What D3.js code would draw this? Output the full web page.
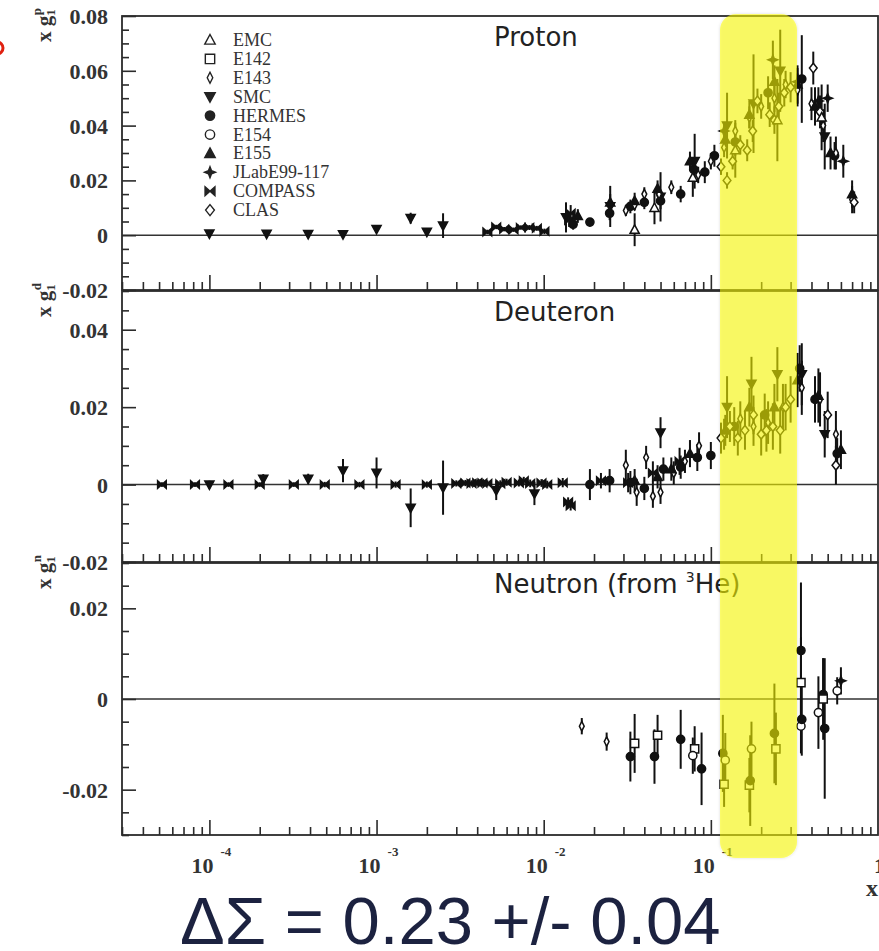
<!DOCTYPE html>
<html>
<head>
<meta charset="utf-8">
<script src="https://cdn.jsdelivr.net/npm/d3@7"></script>
<style>
  body { margin: 0; background: #fff; }
  svg { display: block; }
</style>
</head>
<body>
<svg id="chart" width="879" height="951"></svg>
<script>
// ---- experiments (legend order) ----
const experiments = ["EMC", "E142", "E143", "SMC", "HERMES", "E154", "E155", "JLabE99-117", "COMPASS", "CLAS"];

// ---- x g1 data: [experiment, x, value, error] ----
const protonData = [
  ["SMC", 0.0001, 0.0006, 0.0012], ["SMC", 0.00022, 0.0005, 0.0010], ["SMC", 0.00039, 0.0004, 0.0010],
  ["SMC", 0.00063, 0.0003, 0.0010], ["SMC", 0.0010, 0.0022, 0.0014], ["SMC", 0.0016, 0.0062, 0.0020],
  ["SMC", 0.0020, 0.0012, 0.0012], ["SMC", 0.0025, 0.0035, 0.0045], ["SMC", 0.0136, 0.0065, 0.0055],
  ["SMC", 0.025, 0.0105, 0.0075], ["SMC", 0.05, 0.0140, 0.0090], ["SMC", 0.080, 0.0270, 0.0100],
  ["SMC", 0.125, 0.0400, 0.0120], ["SMC", 0.18, 0.0480, 0.0180], ["SMC", 0.26, 0.0600, 0.0150],
  ["SMC", 0.48, 0.0360, 0.0120],
  ["COMPASS", 0.0046, 0.0012, 0.0008], ["COMPASS", 0.0052, 0.0030, 0.0008], ["COMPASS", 0.0058, 0.0022, 0.0008],
  ["COMPASS", 0.0066, 0.0020, 0.0008], ["COMPASS", 0.0073, 0.0028, 0.0008], ["COMPASS", 0.0082, 0.0028, 0.0009],
  ["COMPASS", 0.0091, 0.0025, 0.0009], ["COMPASS", 0.0101, 0.0014, 0.0010], ["COMPASS", 0.0142, 0.0055, 0.0025],
  ["COMPASS", 0.0145, 0.0080, 0.0030],
  ["HERMES", 0.0150, 0.0040, 0.0020], ["HERMES", 0.0189, 0.0048, 0.0015], ["HERMES", 0.0248, 0.0080, 0.0025],
  ["HERMES", 0.033, 0.0105, 0.0025], ["HERMES", 0.040, 0.0120, 0.0025], ["HERMES", 0.050, 0.0125, 0.0030],
  ["HERMES", 0.066, 0.0150, 0.0030], ["HERMES", 0.079, 0.0240, 0.0035], ["HERMES", 0.092, 0.0230, 0.0040],
  ["HERMES", 0.105, 0.0290, 0.0040], ["HERMES", 0.140, 0.0340, 0.0050], ["HERMES", 0.220, 0.0520, 0.0060],
  ["HERMES", 0.350, 0.0570, 0.0160], ["HERMES", 0.55, 0.0290, 0.0050],
  ["E143", 0.031, 0.0090, 0.0020], ["E143", 0.035, 0.0110, 0.0020], ["E143", 0.040, 0.0150, 0.0025],
  ["E143", 0.049, 0.0150, 0.0025], ["E143", 0.058, 0.0175, 0.0025], ["E143", 0.084, 0.0220, 0.0030],
  ["E143", 0.100, 0.0270, 0.0030], ["E143", 0.120, 0.0320, 0.0035], ["E143", 0.140, 0.0380, 0.0040],
  ["E143", 0.170, 0.0430, 0.0040], ["E143", 0.200, 0.0470, 0.0045], ["E143", 0.240, 0.0500, 0.0050],
  ["E143", 0.280, 0.0550, 0.0050], ["E143", 0.330, 0.0530, 0.0060], ["E143", 0.400, 0.0480, 0.0060],
  ["E143", 0.470, 0.0400, 0.0060], ["E143", 0.560, 0.0300, 0.0060], ["E143", 0.700, 0.0130, 0.0050],
  ["E155", 0.016, 0.0070, 0.0025], ["E155", 0.025, 0.0120, 0.0030], ["E155", 0.035, 0.0125, 0.0030],
  ["E155", 0.048, 0.0170, 0.0030], ["E155", 0.075, 0.0270, 0.0035], ["E155", 0.122, 0.0350, 0.0040],
  ["E155", 0.170, 0.0440, 0.0050], ["E155", 0.240, 0.0560, 0.0060], ["E155", 0.330, 0.0550, 0.0070],
  ["E155", 0.420, 0.0470, 0.0070], ["E155", 0.520, 0.0300, 0.0060], ["E155", 0.700, 0.0150, 0.0050],
  ["CLAS", 0.115, 0.0250, 0.0030], ["CLAS", 0.125, 0.0200, 0.0030], ["CLAS", 0.135, 0.0270, 0.0030],
  ["CLAS", 0.150, 0.0330, 0.0035], ["CLAS", 0.165, 0.0310, 0.0040], ["CLAS", 0.178, 0.0380, 0.0040],
  ["CLAS", 0.190, 0.0490, 0.0045], ["CLAS", 0.225, 0.0440, 0.0045], ["CLAS", 0.240, 0.0420, 0.0050],
  ["CLAS", 0.255, 0.0470, 0.0050], ["CLAS", 0.275, 0.0520, 0.0050], ["CLAS", 0.300, 0.0540, 0.0055],
  ["CLAS", 0.410, 0.0610, 0.0060], ["CLAS", 0.450, 0.0450, 0.0060], ["CLAS", 0.720, 0.0120, 0.0040],
  ["JLabE99-117", 0.120, 0.0380, 0.0030], ["JLabE99-117", 0.235, 0.0640, 0.0070], ["JLabE99-117", 0.330, 0.0560, 0.0050],
  ["JLabE99-117", 0.440, 0.0490, 0.0050], ["JLabE99-117", 0.50, 0.0500, 0.0050], ["JLabE99-117", 0.62, 0.0270, 0.0060],
  ["EMC", 0.035, 0.0020, 0.0060], ["EMC", 0.046, 0.0100, 0.0060], ["EMC", 0.078, 0.0210, 0.0070],
  ["EMC", 0.14, 0.0310, 0.0100], ["EMC", 0.25, 0.0420, 0.0150], ["EMC", 0.46, 0.0430, 0.0120]
];

const deuteronData = [
  ["COMPASS", 5.2e-5, 0.0000, 0.0006], ["COMPASS", 8.2e-5, 0.0000, 0.0006], ["COMPASS", 1.3e-4, 0.0000, 0.0006],
  ["COMPASS", 2.0e-4, 0.0000, 0.0006], ["COMPASS", 3.2e-4, 0.0000, 0.0006], ["COMPASS", 4.9e-4, 0.0000, 0.0007],
  ["COMPASS", 7.9e-4, 0.0000, 0.0007], ["COMPASS", 1.3e-3, 0.0000, 0.0008], ["COMPASS", 2.0e-3, 0.0000, 0.0008],
  ["COMPASS", 3.0e-3, 0.0003, 0.0008], ["COMPASS", 3.4e-3, 0.0004, 0.0008], ["COMPASS", 3.7e-3, 0.0003, 0.0008],
  ["COMPASS", 4.0e-3, 0.0005, 0.0008], ["COMPASS", 4.3e-3, 0.0004, 0.0008], ["COMPASS", 4.6e-3, 0.0003, 0.0008],
  ["COMPASS", 5.5e-3, 0.0002, 0.0009], ["COMPASS", 6.0e-3, 0.0006, 0.0009], ["COMPASS", 7.1e-3, 0.0004, 0.0009],
  ["COMPASS", 7.6e-3, 0.0010, 0.0010], ["COMPASS", 8.3e-3, 0.0003, 0.0010], ["COMPASS", 9.7e-3, 0.0004, 0.0010],
  ["COMPASS", 1.05e-2, 0.0000, 0.0010], ["COMPASS", 1.3e-2, 0.0005, 0.0012], ["COMPASS", 1.4e-2, -0.0045, 0.0012],
  ["COMPASS", 1.45e-2, -0.0055, 0.0012], ["COMPASS", 2.2e-2, 0.0010, 0.0020], ["COMPASS", 3.2e-2, 0.0005, 0.0025],
  ["COMPASS", 4.5e-2, 0.0030, 0.0030], ["COMPASS", 6.5e-2, 0.0060, 0.0035],
  ["SMC", 1.0e-4, 0.0000, 0.0010], ["SMC", 2.1e-4, 0.0015, 0.0012], ["SMC", 3.9e-4, 0.0015, 0.0013],
  ["SMC", 6.3e-4, 0.0036, 0.0030], ["SMC", 1.0e-3, 0.0030, 0.0040], ["SMC", 1.6e-3, -0.0060, 0.0050],
  ["SMC", 2.5e-3, -0.0008, 0.0070], ["SMC", 5.2e-3, -0.0015, 0.0025], ["SMC", 8.8e-3, -0.0023, 0.0030],
  ["SMC", 0.050, 0.0134, 0.0040], ["SMC", 0.125, 0.0200, 0.0080], ["SMC", 0.175, 0.0260, 0.0070],
  ["SMC", 0.25, 0.0285, 0.0070], ["SMC", 0.35, 0.0285, 0.0080], ["SMC", 0.48, 0.0130, 0.0060],
  ["HERMES", 0.0189, 0.0000, 0.0040], ["HERMES", 0.0248, 0.0010, 0.0030], ["HERMES", 0.033, 0.0005, 0.0030],
  ["HERMES", 0.040, -0.0010, 0.0030], ["HERMES", 0.052, 0.0040, 0.0030], ["HERMES", 0.066, 0.0045, 0.0030],
  ["HERMES", 0.083, 0.0070, 0.0035], ["HERMES", 0.100, 0.0075, 0.0035], ["HERMES", 0.138, 0.0150, 0.0050],
  ["HERMES", 0.210, 0.0180, 0.0055], ["HERMES", 0.340, 0.0300, 0.0060], ["HERMES", 0.42, 0.0220, 0.0060],
  ["HERMES", 0.57, 0.0080, 0.0040],
  ["E143", 0.031, 0.0050, 0.0040], ["E143", 0.036, -0.0020, 0.0035], ["E143", 0.041, 0.0070, 0.0030],
  ["E143", 0.045, -0.0030, 0.0030], ["E143", 0.050, -0.0020, 0.0030], ["E143", 0.060, 0.0030, 0.0030],
  ["E143", 0.070, 0.0060, 0.0030], ["E143", 0.085, 0.0100, 0.0035], ["E143", 0.120, 0.0130, 0.0040],
  ["E143", 0.150, 0.0170, 0.0045], ["E143", 0.180, 0.0150, 0.0050], ["E143", 0.220, 0.0160, 0.0055],
  ["E143", 0.270, 0.0200, 0.0060], ["E143", 0.350, 0.0250, 0.0070], ["E143", 0.450, 0.0220, 0.0070],
  ["E143", 0.560, 0.0130, 0.0060],
  ["E155", 0.035, 0.0010, 0.0030], ["E155", 0.048, 0.0020, 0.0030], ["E155", 0.058, 0.0040, 0.0030],
  ["E155", 0.075, 0.0080, 0.0035], ["E155", 0.122, 0.0140, 0.0040], ["E155", 0.170, 0.0200, 0.0050],
  ["E155", 0.240, 0.0200, 0.0060], ["E155", 0.330, 0.0270, 0.0070], ["E155", 0.440, 0.0230, 0.0070],
  ["E155", 0.600, 0.0090, 0.0050],
  ["CLAS", 0.115, 0.0120, 0.0040], ["CLAS", 0.130, 0.0150, 0.0040], ["CLAS", 0.145, 0.0120, 0.0045],
  ["CLAS", 0.160, 0.0140, 0.0050], ["CLAS", 0.180, 0.0180, 0.0050], ["CLAS", 0.200, 0.0130, 0.0055],
  ["CLAS", 0.215, 0.0140, 0.0055], ["CLAS", 0.235, 0.0150, 0.0060], ["CLAS", 0.260, 0.0140, 0.0060],
  ["CLAS", 0.280, 0.0200, 0.0060], ["CLAS", 0.300, 0.0220, 0.0060], ["CLAS", 0.500, 0.0180, 0.0060],
  ["CLAS", 0.560, 0.0050, 0.0050]
];

const neutronData = [
  ["E143", 0.0169, -0.0060, 0.0018], ["E143", 0.0238, -0.0094, 0.0020],
  ["E142", 0.035, -0.0098, 0.0065], ["HERMES", 0.033, -0.0127, 0.0055],
  ["E142", 0.048, -0.0080, 0.0045], ["HERMES", 0.046, -0.0127, 0.0060],
  ["HERMES", 0.066, -0.0089, 0.0065],
  ["E142", 0.080, -0.0110, 0.0050], ["E154", 0.078, -0.0125, 0.0040], ["HERMES", 0.088, -0.0154, 0.0080],
  ["HERMES", 0.118, -0.0120, 0.0085], ["E154", 0.122, -0.0135, 0.0060], ["E142", 0.120, -0.0188, 0.0050],
  ["E154", 0.175, -0.0110, 0.0060], ["E142", 0.170, -0.0190, 0.0060], ["HERMES", 0.172, -0.0180, 0.0100],
  ["HERMES", 0.240, -0.0076, 0.0110], ["E142", 0.245, -0.0110, 0.0080],
  ["HERMES", 0.346, 0.0107, 0.0150], ["E142", 0.346, 0.0036, 0.0100], ["E154", 0.346, -0.0060, 0.0060],
  ["HERMES", 0.350, -0.0045, 0.0080],
  ["E154", 0.440, -0.0030, 0.0080], ["HERMES", 0.470, 0.0010, 0.0080], ["E142", 0.470, 0.0000, 0.0090],
  ["HERMES", 0.480, -0.0065, 0.0155],
  ["E154", 0.570, 0.0018, 0.0030], ["JLabE99-117", 0.600, 0.0040, 0.0030]
];

// ---- axis ticks ----
const xDecades = [1e-4, 1e-3, 1e-2, 1e-1, 1];
const xDecadeExponents = ["-4", "-3", "-2", "-1", ""];
const protonTicks = [-0.02, 0, 0.02, 0.04, 0.06, 0.08];
const deuteronTicks = [-0.02, 0, 0.02, 0.04];
const neutronTicks = [-0.02, 0, 0.02];
const tickLabels = { "-0.02": "-0.02", "0": "0", "0.02": "0.02", "0.04": "0.04", "0.06": "0.06", "0.08": "0.08" };

// ---- layout ----
const X0 = 122, X1 = 878;
const panels = [
  { key: "p", title: ["Proton"], data: protonData, domain: [-0.02, 0.08], top: 16, bottom: 290, ticks: protonTicks },
  { key: "d", title: ["Deuteron"], data: deuteronData, domain: [-0.02, 0.05], top: 291, bottom: 562, ticks: deuteronTicks },
  { key: "n", title: ["Neutron (from ", "3", "He)"], data: neutronData, domain: [-0.03, 0.03], top: 563, bottom: 835, ticks: neutronTicks }
];

const ink = "#2b2b2b";
const svg = d3.select("#chart");
const x = d3.scaleLog().domain([3e-5, 1]).range([X0, X1]);

// minor x ticks: 2..9 in each decade inside the domain
const xMinor = [];
for (let e = -5; e < 0; e++) {
  for (let m = 2; m <= 9; m++) {
    const v = m * Math.pow(10, e);
    if (v > 3e-5 && v < 1) xMinor.push(v);
  }
}

// marker shapes
function markerPath(exp, r) {
  const c = (rr) => `M${rr},0A${rr},${rr} 0 1 1 ${-rr},0A${rr},${rr} 0 1 1 ${rr},0Z`;
  switch (exp) {
    case "EMC": return `M0,${-r}L${r * 0.95},${r * 0.75}L${-r * 0.95},${r * 0.75}Z`;
    case "E155": return `M0,${-r}L${r * 0.95},${r * 0.75}L${-r * 0.95},${r * 0.75}Z`;
    case "SMC": return `M0,${r}L${r * 0.95},${-r * 0.75}L${-r * 0.95},${-r * 0.75}Z`;
    case "E142": { const s = r * 0.85; return `M${-s},${-s}H${s}V${s}H${-s}Z`; }
    case "E143": return `M0,${-r}L${r * 0.5},0L0,${r}L${-r * 0.5},0Z`;
    case "HERMES": return c(r * 0.85);
    case "E154": return c(r * 0.85);
    case "JLabE99-117": { const k = r * 0.28; return `M0,${-r}L${k},${-k}L${r},0L${k},${k}L0,${r}L${-k},${k}L${-r},0L${-k},${-k}Z`; }
    case "COMPASS": return `M${-r * 0.9},${-r * 0.8}L${r * 0.9},${r * 0.8}L${r * 0.9},${-r * 0.8}L${-r * 0.9},${r * 0.8}Z`;
    case "CLAS": return `M0,${-r}L${r * 0.8},0L0,${r}L${-r * 0.8},0Z`;
  }
}
const openMarkers = new Set(["EMC", "E142", "E143", "E154", "CLAS"]);

panels.forEach((p, i) => {
  const y = d3.scaleLinear().domain(p.domain).range([p.bottom, p.top]);
  const g = svg.append("g");

  // frame
  g.append("rect").attr("x", X0).attr("y", p.top).attr("width", X1 - X0).attr("height", p.bottom - p.top)
    .attr("fill", "none").attr("stroke", ink).attr("stroke-width", 1.8);

  // zero line
  g.append("line").attr("x1", X0).attr("x2", X1).attr("y1", y(0)).attr("y2", y(0))
    .attr("stroke", "#333").attr("stroke-width", 1.6);

  // y axis, ticks pointing inward
  const minorY = d3.range(Math.round(p.domain[0] / 0.005), Math.round(p.domain[1] / 0.005) + 1)
    .map(k => +(k * 0.005).toFixed(3)).filter(v => !p.ticks.includes(v) && Math.abs(v % 0.02) > 1e-9);
  const yMinorAxis = d3.axisLeft(y).tickValues(minorY).tickSize(-7).tickFormat("");
  const yMajorAxis = d3.axisLeft(y).tickValues(p.ticks).tickSize(-14).tickPadding(14)
    .tickFormat(v => tickLabels[String(+v.toFixed(2))]);
  const ya = g.append("g").attr("transform", `translate(${X0},0)`).call(yMinorAxis);
  const yb = g.append("g").attr("transform", `translate(${X0},0)`).call(yMajorAxis);
  [ya, yb].forEach(a => {
    a.select(".domain").remove();
    a.selectAll(".tick line").attr("stroke", ink).attr("stroke-width", 1.6);
  });
  yb.selectAll(".tick text").attr("font-family", "'Liberation Serif', serif").attr("font-size", 22)
    .attr("font-weight", "bold").attr("fill", "#333").attr("dy", "0.34em");

  // x ticks along the bottom edge, pointing up
  const xMinorAxis = d3.axisBottom(x).tickValues(xMinor).tickSize(-8).tickFormat("");
  const xMajorAxis = d3.axisBottom(x).tickValues(xDecades.filter(v => v < 1)).tickSize(-15).tickFormat("");
  [xMinorAxis, xMajorAxis].forEach(ax => {
    const a = g.append("g").attr("transform", `translate(0,${p.bottom})`).call(ax);
    a.select(".domain").remove();
    a.selectAll(".tick line").attr("stroke", ink).attr("stroke-width", 1.6);
  });

  // y axis label (rotated)
  const lab = g.append("text")
    .attr("transform", `translate(51,${p.top - 8}) rotate(-90)`)
    .attr("text-anchor", "end")
    .attr("font-family", "'Liberation Serif', serif").attr("font-weight", "bold")
    .attr("font-size", 21).attr("fill", "#333");
  lab.append("tspan").text("x g");
  lab.append("tspan").attr("font-size", 13).attr("dy", 4).text("1");
  lab.append("tspan").attr("font-size", 13).attr("dx", -6).attr("dy", -14).text(p.key);

  // panel title
  const t = g.append("text").attr("x", 494).attr("y", p.top + 30)
    .attr("font-family", "'DejaVu Sans', Verdana, sans-serif").attr("font-size", 26).attr("fill", "#222");
  t.append("tspan").text(p.title[0]);
  if (p.title.length > 1) {
    t.append("tspan").attr("font-size", 14).attr("dy", -11).text(p.title[1]);
    t.append("tspan").attr("dy", 11).text(p.title[2]);
  }

  // error bars
  g.append("g").selectAll("line").data(p.data).join("line")
    .attr("x1", d => x(d[1])).attr("x2", d => x(d[1]))
    .attr("y1", d => y(d[2] - d[3])).attr("y2", d => y(d[2] + d[3]))
    .attr("stroke", "#111").attr("stroke-width", 2);

  // markers
  g.append("g").selectAll("path").data(p.data).join("path")
    .attr("transform", d => `translate(${x(d[1])},${y(d[2])})`)
    .attr("d", d => markerPath(d[0], 4.8))
    .attr("fill", d => openMarkers.has(d[0]) ? "#fff" : "#111")
    .attr("stroke", "#111").attr("stroke-width", 1.5);
});

// x axis labels under the bottom panel
const xl = svg.append("g");
xDecades.forEach((v, i) => {
  if (v === 1) {
    xl.append("text").attr("x", x(v) - 4).attr("y", 873)
      .attr("font-family", "'Liberation Serif', serif").attr("font-weight", "bold")
      .attr("font-size", 22).attr("fill", "#333").text("1");
    return;
  }
  xl.append("text").attr("x", x(v) + 4).attr("y", 873).attr("text-anchor", "end")
    .attr("font-family", "'Liberation Serif', serif").attr("font-weight", "bold")
    .attr("font-size", 22).attr("fill", "#333").text("10");
  xl.append("text").attr("x", x(v) + 11).attr("y", 856)
    .attr("font-family", "'Liberation Serif', serif").attr("font-weight", "bold")
    .attr("font-size", 13).attr("fill", "#333").text(xDecadeExponents[i]);
});
xl.append("text").attr("x", 866).attr("y", 896)
  .attr("font-family", "'Liberation Serif', serif").attr("font-weight", "bold")
  .attr("font-size", 24).attr("fill", "#333").text("x");

// legend
const leg = svg.append("g");
experiments.forEach((e, i) => {
  const ly = 40 + i * 18.9;
  leg.append("path").attr("transform", `translate(210,${ly})`).attr("d", markerPath(e, 5.5))
    .attr("fill", openMarkers.has(e) ? "#fff" : "#222").attr("stroke", "#222").attr("stroke-width", 1.4);
  leg.append("text").attr("x", 233).attr("y", ly + 6)
    .attr("font-family", "'Liberation Serif', serif").attr("font-size", 18).attr("fill", "#333").text(e);
});

// highlighted x band
const defs = svg.append("defs");
const f = defs.append("filter").attr("id", "soft").attr("x", "-10%").attr("y", "-5%").attr("width", "120%").attr("height", "110%");
f.append("feDropShadow").attr("dx", 0).attr("dy", 0).attr("stdDeviation", 1.5)
  .attr("flood-color", "#000").attr("flood-opacity", 0.25);
svg.append("rect").attr("x", 720).attr("y", 14).attr("width", 77).attr("height", 844)
  .attr("rx", 16).attr("ry", 16)
  .attr("fill", "#ffff00").attr("fill-opacity", 0.55).attr("filter", "url(#soft)");

// red mark at the left margin
svg.append("circle").attr("cx", -3).attr("cy", 48).attr("r", 6)
  .attr("fill", "none").attr("stroke", "#e02010").attr("stroke-width", 3);

// quoted result
svg.append("text").attr("x", 180).attr("y", 944)
  .attr("font-family", "'Liberation Sans', Arial, sans-serif").attr("font-size", 67)
  .attr("fill", "#1c2240").text("ΔΣ = 0.23 +/- 0.04");
</script>
</body>
</html>
